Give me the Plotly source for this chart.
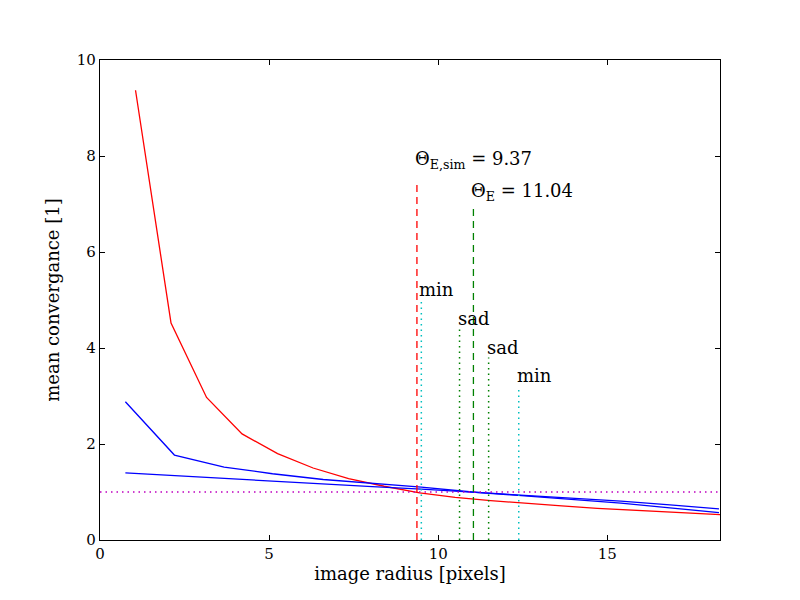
import plotly.graph_objects as go

# red curve: simulated mean convergence
red_r = [1.05, 2.1, 3.15, 4.2, 5.25, 6.3, 7.35, 8.4, 9.45, 10.5, 11.55, 12.6,
         13.65, 14.7, 15.75, 16.8, 17.85, 18.9]
red_k = [9.37, 4.52, 2.97, 2.21, 1.80, 1.50, 1.28, 1.12, 0.98, 0.89, 0.82, 0.76,
         0.71, 0.66, 0.62, 0.58, 0.54, 0.51]

# blue curves: models
blue_r = [0.75, 2.2, 3.67, 5.1, 6.6, 8.05, 9.5, 11.0, 12.45, 13.9, 15.4, 16.85, 18.3]
blue1_k = [2.88, 1.77, 1.52, 1.38, 1.26, 1.18, 1.10, 1.00, 0.92, 0.85, 0.77, 0.67, 0.57]
blue2_k = [1.40, 1.34, 1.29, 1.23, 1.17, 1.11, 1.06, 1.00, 0.94, 0.88, 0.81, 0.73, 0.65]

# einstein radii (dashed lines)
theta_x = [9.37, 11.04]
theta_top = [7.5, 7.0]
theta_col = ["red", "green"]
theta_txt = ["Θ<sub>E,sim</sub> = 9.37", "Θ<sub>E</sub> = 11.04"]
theta_shift = [6, -2]

# image positions (dotted lines)
img_x = [9.5, 10.63, 11.49, 12.38]
img_top = [5.0, 4.4, 3.8, 3.2]
img_col = ["#00bfbf", "green", "green", "#00bfbf"]
img_txt = ["min", "sad", "sad", "min"]

x_max = 18.33
font = "DejaVu Serif"

fig = go.Figure()
fig.add_trace(go.Scatter(x=red_r, y=red_k, mode="lines", line=dict(color="red", width=1.3)))
fig.add_trace(go.Scatter(x=blue_r, y=blue1_k, mode="lines", line=dict(color="blue", width=1.3)))
fig.add_trace(go.Scatter(x=blue_r, y=blue2_k, mode="lines", line=dict(color="blue", width=1.3)))

# unit convergence
fig.add_trace(go.Scatter(x=[0, x_max], y=[1, 1], mode="lines",
                         line=dict(color="#bf00bf", width=1.5, dash="1.5px,4px")))

for x, top, c, t, s in zip(theta_x, theta_top, theta_col, theta_txt, theta_shift):
    fig.add_trace(go.Scatter(x=[x, x], y=[0, top], mode="lines",
                             line=dict(color=c, width=1.3, dash="7px,5px")))
    fig.add_annotation(x=x, y=top, text=t, showarrow=False, xanchor="left", yanchor="bottom",
                       xshift=-4, yshift=s, font=dict(size=18, family=font, color="black"))

for x, top, c, t in zip(img_x, img_top, img_col, img_txt):
    fig.add_trace(go.Scatter(x=[x, x], y=[0, top], mode="lines",
                             line=dict(color=c, width=1.5, dash="1.5px,4px")))
    fig.add_annotation(x=x, y=top, text=t, showarrow=False, xanchor="left", yanchor="bottom",
                       xshift=-4, yshift=-2, font=dict(size=18, family=font, color="black"))

axis = dict(showline=True, linecolor="black", linewidth=1.2, mirror="ticks", ticks="inside",
            ticklen=5, tickcolor="black", showgrid=False, zeroline=False,
            tickfont=dict(size=15, family=font, color="black"))

fig.update_xaxes(range=[0, x_max], tickvals=[0, 5, 10, 15],
                 title=dict(text="image radius [pixels]", font=dict(size=18, family=font, color="black"),
                            standoff=4), **axis)
fig.update_yaxes(range=[0, 10], tickvals=[0, 2, 4, 6, 8, 10],
                 title=dict(text="mean convergance [1]", font=dict(size=18, family=font, color="black"),
                            standoff=12), **axis)
fig.update_layout(width=800, height=600, showlegend=False,
                  margin=dict(l=92, r=88, t=52, b=68),
                  plot_bgcolor="white", paper_bgcolor="white")

fig.write_html("out.html")
